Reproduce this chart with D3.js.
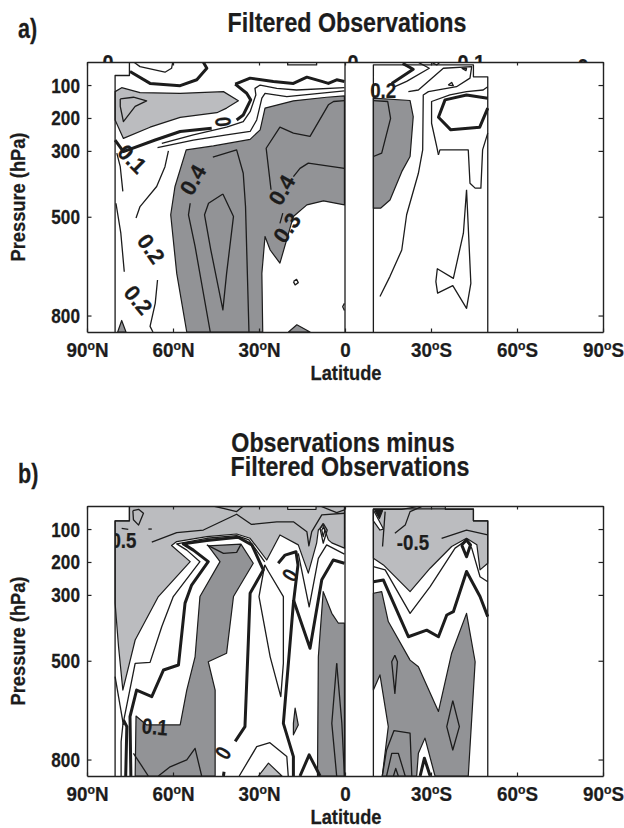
<!DOCTYPE html>
<html><head><meta charset="utf-8">
<script src="https://cdn.jsdelivr.net/npm/d3@7"></script>
<style>html,body{margin:0;padding:0;background:#fff}svg{display:block}</style>
</head><body><div id="c"></div>
<script>
// All contour data are [latitude (+N / -S), pressure hPa]
const latTicks=[90,60,30,0,-30,-60,-90];
const latTickLabels=[["90","N"],["60","N"],["30","N"],["0",""],["30","S"],["60","S"],["90","S"]];
const pressureTicks=[100,200,300,500,800];
const dataBox=[[80.2,850],[80.2,71],[75.2,71],[75.2,30],[0,30],[0,850]];
const dataBoxB=[[80.2,850],[80.2,75],[75.2,75],[75.2,30],[0,30],[0,850]];
const dataBoxS=[[-9.9,850],[-9.9,39],[-44.8,39],[-44.8,75],[-49.8,75],[-49.8,850]];

// Panel a
const aDark=[
 [[55.2,850],[58.7,672],[60.8,494],[59.3,408],[55.4,297],[45.9,285],[33.1,265],[29.6,236],[27.9,170],[18,148],[6.4,137],[0.2,133],[0.2,464],[7.5,452],[13.3,464],[18,499],[22.7,641],[26.1,601],[27.9,560],[29,672],[28.7,850]],
 [[79.3,850],[77.9,815],[76.4,850]],
 [[19.7,850],[16.8,828],[12.2,850]],
 [[-9.9,140],[-22.7,147],[-23.8,196],[-22.7,317],[-19.8,363],[-15.7,449],[-12.4,474],[-9.9,474]]
];
const aLight=[
 [[80.2,120],[77.9,108],[71.5,123],[57.5,125],[42.4,120],[37.2,148],[41.3,170],[44.7,184],[57.5,198],[68,228],[77.3,262],[80.2,206]]
];
const aThin=[
 [[78.4,142],[73.8,137],[69.2,148],[73.2,165],[77.3,211],[78.4,165],[78.4,142]],
 [[47,850],[52.3,590],[54.6,494],[54,459]],
 [[46.1,319],[37.8,297],[35.5,368],[34.7,469],[33.5,850]],
 [[42.6,431],[47.6,459],[49,494],[46.8,601],[42.6,783],[41.3,672],[38.9,499],[42.6,431]],
 [[0.2,147],[4,150],[5.8,160],[12.2,256],[18,246],[22.7,228],[27.5,292],[25.8,418]],
 [[21.7,489],[22.7,520]],
 [[18,378],[15.7,353],[12.8,337],[0.2,353]],
 [[63.9,277],[52.9,251],[41.3,228],[35.5,211],[33.1,181],[31.1,130],[31.4,110],[29.6,100],[23.8,110],[16.9,115],[0.2,108]],
 [[65.4,290],[52.9,267],[41.3,251],[33.1,241],[30.8,206],[29,140],[27.9,125],[20.3,135],[0.2,118]],
 [[73.6,31],[71.5,44],[62.8,61],[60.5,49],[60.1,31]],
 [[20,31],[20,39],[9.9,39],[9.9,31]],
 [[79.6,307],[78.4,348],[77.5,423]],
 [[79.9,459],[78.2,550],[77,667]],
 [[72.9,504],[71.5,469],[65.7,408],[62.8,348],[61.6,300]],
 [[65.4,692],[66.2,763],[68,833],[67,850]],
 [[18,697],[16.9,690],[16.3,700],[17.4,707],[18,697]],
 [[0.2,763],[0.8,773],[0.2,785]],
 [[-9.9,147],[-14.9,150],[-15.9,201],[-12.8,307],[-9.9,317]],
 [[-12.2,742],[-15.7,681],[-19.8,601],[-21.5,494],[-25.6,368],[-27.1,297],[-27.3,130],[-29.1,120],[-38.9,105],[-43.6,79],[-44.2,44],[-34.3,49],[-29.7,84],[-25.6,115],[-22.1,120]],
 [[-32.6,312],[-32,287],[-30.2,216],[-30.2,150],[-36.6,130],[-42.4,120],[-48.2,115],[-49.8,105]],
 [[-32.6,312],[-33.1,297],[-43,297],[-43.6,398],[-45.4,413],[-47.4,413],[-48,297],[-49.8,246]],
 [[-25.6,31],[-29.4,49],[-21.5,89],[-17.4,105]],
 [[-30.2,31],[-32,39],[-33.1,31]],
 [[-36,100],[-37.2,92],[-37.8,102],[-36,100]],
 [[-40.7,49],[-42.4,49],[-42.2,56],[-40.7,49]],
 [[-42.4,418],[-41.3,550],[-37.8,687],[-32.2,658],[-31.7,697],[-32.3,732],[-37.6,709],[-42.4,778],[-43.9,702],[-42.4,418]]
];
const aThick=[
 [[38.3,97],[33.1,79],[25,89],[18,95],[13.3,76],[8.1,89],[5.8,95],[2.9,84],[0.2,89]],
 [[38.3,97],[34.3,125],[32.9,145],[35.5,191],[37.8,206]],
 [[46.5,231],[57.5,241],[66.2,267],[77.3,302],[80.2,267]],
 [[75,59],[68,95],[57.5,102],[51.7,84],[48.2,49],[49.4,31]],
 [[-49.8,140],[-42.4,130],[-34.9,145],[-32.6,198],[-36.9,236],[-47,228],[-49.8,170]],
 [[-16.3,95],[-23.8,52],[-20.1,34]]
];
const aLabels=["0.1","0.4","0.2","0.2","0","0.4","0.3","0.2"];
const aLabelPos=[[74.3,325],[53,388],[67.7,598],[72.2,753],[42.6,212],[22,419],[20.2,534],[-13.3,115]];
const aLabelAngle=[45,-60,55,50,-95,-60,-55,0];
const aTopLabels=["0","0","0.1","0"];
const aTopPos=[[82.7,0],[-2.8,0],[-44,0],[-83,4]];

// Panel b
const bLight=[
 [[75.2,30],[0.2,30],[0.2,158],[4.6,142],[5.8,133],[7.6,88],[9.3,103],[9.9,143],[12.8,234],[16.3,148],[22.7,118],[27.3,194],[33.1,128],[37.8,115],[48.2,123],[58.7,138],[60.5,150],[54,199],[65.1,305],[73.2,437],[77.5,589],[79,457],[80.2,325],[80.2,75],[75.2,75]],
 [[30.2,850],[26.7,811],[22,850]],
 [[-9.9,40],[-19.8,40],[-26.5,30],[-35,30],[-35,40],[-44.8,40],[-44.8,75],[-49.8,75],[-49.8,204],[-47.1,224],[-46,148],[-42.4,128],[-37.2,153],[-29.7,219],[-22.7,290],[-13.4,209],[-9.9,189]]
];
const bDark=[
 [[47.7,151],[36.3,146],[32,204],[38.9,305],[41.3,477],[47.7,503],[45.3,589],[45.3,850],[73.2,850],[72.9,668],[69.2,695],[57.5,695],[55.2,589],[52.3,488],[50.6,305],[43.6,199],[47.7,151]],
 [[0.2,386],[2.3,386],[4.6,356],[7.6,290],[9.3,488],[9.6,850],[0.2,850]],
 [[17.4,644],[16.3,695],[18,725],[18,690]],
 [[-9.9,295],[-12.8,290],[-15.1,381],[-22.7,498],[-25.6,518],[-32.6,654],[-37.2,477],[-42.4,356],[-45.4,503],[-43,850],[-31.4,850],[-27.9,735],[-25.6,781],[-25,850],[-13,850],[-15.1,700],[-12.2,543],[-9.9,589]]
];
const bHoles=[
 [[20,30],[20,40],[10.1,40],[10.1,30]],
 [[-40.7,148],[-42.4,133],[-43.8,148],[-42.4,184]],
 [[-9.9,42],[-13.4,100],[-12.2,103],[-9.9,75]]
];
const bBlack=[[[-10.5,44],[-13.1,44],[-12,68]]];
const bThin=[
 [[78.1,850],[78.1,746],[77.5,695],[73.2,508],[68,505],[63.9,396],[59.9,305],[50.6,199],[55.2,164],[58.7,145],[48.2,128],[37.8,120],[33.5,133],[28,200]],
 [[28,209],[30,305],[26.1,488],[22.4,609],[21.5,508],[21.5,305],[26.7,229],[28,209]],
 [[48.2,148],[42.4,174],[37.8,171],[36.4,148]],
 [[36.9,850],[30.8,761],[26.2,749],[20.3,791],[19.8,850]],
 [[73.8,781],[68.6,850]],
 [[65.1,850],[61,822],[55.2,801],[52.3,766],[50,850]],
 [[77.3,695],[80.2,548]],
 [[2.9,508],[4.6,690],[2.9,850]],
 [[2.9,508],[1.1,690],[0.2,850]],
 [[67.4,140],[58.7,111],[49.4,103],[37.8,55],[32.6,86],[23.8,78],[18,78],[13.3,108],[12.6,151],[11.6,108],[8.1,57],[0.2,52]],
 [[45.9,30],[37.8,47],[35.5,30]],
 [[8.7,30],[2.9,50],[0.2,42]],
 [[74,44],[72,40],[70.3,52],[72,88],[73.8,72],[74,44]],
 [[77.9,98],[75.6,101]],
 [[68.6,100],[67.4,100]],
 [[7.6,83],[8.7,98],[7.6,143],[6.2,103],[7.6,83]],
 [[7.6,95],[8.1,103],[7.6,123],[7,103],[7.6,95]],
 [[16.3,174],[12.5,336],[9.3,189],[6.4,148],[0.2,176]],
 [[-14,47],[-13.1,153]],
 [[-17.4,113],[-21,88],[-22.7,47],[-26.7,32]],
 [[-33.7,128],[-42.4,103],[-49.8,118]],
 [[-9.9,214],[-14,224],[-22.7,356],[-29.7,275],[-38.4,158],[-42.2,135],[-44.2,158],[-47.1,245],[-49.8,260]],
 [[-37.6,621],[-39.9,700],[-37.6,771],[-35.5,700],[-37.6,621]],
 [[-17.4,483],[-18.3,503],[-17.4,599],[-16.3,503],[-17.4,483]],
 [[-13,850],[-14.5,771],[-17.1,712],[-22.7,720],[-23.3,850]],
 [[-14.5,850],[-16.3,781],[-18.6,781],[-21,850]],
 [[-16.9,850],[-17.7,827],[-18.6,850]]
];
const bThick=[
 [[74.7,850],[75,670],[72.7,589],[67.4,609],[63.3,528],[58.1,513],[55.8,325],[53.5,270],[47.7,199],[52.9,164],[56.4,145],[48.2,135],[37.3,125],[32.5,148],[28.5,224],[33.1,295],[33.7,437],[34.9,700],[38.3,745]],
 [[76.5,850],[76.1,700],[77.3,680]],
 [[42.2,837],[42.4,850]],
 [[23.3,204],[20.9,179],[17.1,169],[16.4,209],[18,325],[21.5,690],[18,791],[18,850]],
 [[18,315],[12.2,462],[8.1,254],[4.1,194],[0.2,204]],
 [[15.7,850],[12.5,786],[8.7,850]],
 [[-9.9,260],[-13.4,255],[-22.1,427],[-28.5,407],[-32.6,427],[-35.5,361],[-37.8,351],[-42.4,229],[-47.1,305],[-49.8,366]],
 [[-26.2,850],[-27.7,796],[-29.7,850]],
 [[-40.7,148],[-42.4,133],[-43.8,148],[-42.4,184],[-40.7,148]]
];
const bLabels=["0.5","0.1","0","0","-0.5"];
const bLabelPos=[[77.3,136],[66.3,701],[42.6,780],[19.2,240],[-23.7,142]];
const bLabelAngle=[0,5,-60,-60,0];

const W=624,H=828;
const FONT='"Liberation Sans",Arial,sans-serif';
const LIGHT="#bbbcbf",DARK="#929396",INK="#1c1c1c";
const svg=d3.select("#c").append("svg").attr("width",W).attr("height",H).attr("viewBox",[0,0,W,H]);
const x=d3.scaleLinear().domain([90,-90]).range([87,603]);
const line=(y)=>d3.line().x(d=>x(d[0])).y(d=>y(d[1]));
const bold=(sel,size)=>sel.attr("font-family",FONT).attr("font-weight","bold").attr("font-size",size).attr("fill",INK).attr("stroke",INK).attr("stroke-width",0.25);

function panel(cfg){
  const top=cfg.top,bottom=top+270;
  const y=d3.scaleLinear().domain([30,850]).range([top,bottom]);
  const ln=line(y);
  const root=svg.append("g");
  // contour labels that stick out above the frame (their lower half is hidden by the plot)
  bold(root.selectAll("text.top").data(cfg.topLabels||[]).join("text").attr("class","top")
    .attr("transform",(d,i)=>`translate(${x(cfg.topPos[i][0])},${top+8+cfg.topPos[i][1]}) scale(.9,1)`)
    .attr("text-anchor","middle"),22).text(d=>d);
  root.append("rect").attr("x",87).attr("y",top).attr("width",516).attr("height",270).attr("fill","#fff");
  const clipId="clip"+cfg.id;
  root.append("clipPath").attr("id",clipId).append("rect").attr("x",87).attr("y",top).attr("width",516).attr("height",270);
  const g=root.append("g").attr("clip-path",`url(#${clipId})`);
  const area=(arr,fill)=>g.append("g").selectAll("path").data(arr).join("path")
    .attr("d",d=>ln(d)+"Z").attr("fill",fill).attr("stroke",INK).attr("stroke-width",1.2).attr("stroke-linejoin","round");
  area(cfg.light,LIGHT);
  area(cfg.dark,DARK);
  if(cfg.holes)area(cfg.holes,"#fff");
  if(cfg.black)area(cfg.black,INK);
  const stroke=(arr,w)=>g.append("g").selectAll("path").data(arr).join("path")
    .attr("d",ln).attr("fill","none").attr("stroke",INK).attr("stroke-width",w).attr("stroke-linejoin","round");
  stroke(cfg.thin,1.3);
  stroke(cfg.thick,3);
  stroke([cfg.boxN,cfg.boxS],1.3);
  // contour labels: horizontal ones and lone zeros are set narrower
  const lclip="lclip"+cfg.id;
  root.append("clipPath").attr("id",lclip).append("rect").attr("x",x(80.2)).attr("y",top).attr("width",x(-90)-x(80.2)).attr("height",270);
  const lg=root.append("g").attr("clip-path",`url(#${lclip})`);
  const sx=(t,a)=>(t.length===1?.8:(Math.abs(a)<10?.85:1));
  bold(lg.selectAll("text").data(cfg.labels).join("text")
    .attr("transform",(d,i)=>{const p=cfg.labelPos[i],a=cfg.labelAngle[i];return `translate(${x(p[0])},${y(p[1])}) rotate(${a}) scale(${sx(d,a)},1)`;})
    .attr("text-anchor","middle").attr("dominant-baseline","central"),22).text(d=>d);
  // axes
  const ax=root.append("g").attr("transform",`translate(0,${bottom})`)
    .call(d3.axisBottom(x).tickValues(latTicks).tickSizeInner(-3.5).tickSizeOuter(0));
  root.append("g").attr("transform",`translate(0,${top})`)
    .call(d3.axisTop(x).tickValues(latTicks).tickSizeInner(-3.5).tickSizeOuter(0).tickFormat(""));
  const ay=root.append("g").attr("transform","translate(87,0)")
    .call(d3.axisLeft(y).tickValues(pressureTicks).tickSizeInner(-4.5).tickSizeOuter(0));
  root.append("g").attr("transform","translate(603,0)")
    .call(d3.axisRight(y).tickValues(pressureTicks).tickSizeInner(-4.5).tickSizeOuter(0).tickFormat(""));
  root.selectAll(".domain").attr("stroke","#222").attr("stroke-width",1.4);
  root.selectAll(".tick line").attr("stroke","#222").attr("stroke-width",1.2);
  bold(ay.selectAll(".tick text"),20).attr("x",null).attr("dy",null)
    .attr("text-anchor","end").attr("transform","translate(-7,7) scale(.86,1)");
  ax.selectAll(".tick text").each(function(d,i){
    const t=bold(d3.select(this).text(null),20).attr("y",null).attr("dy",null)
      .attr("transform","translate(0,25) scale(.94,1)");
    const lab=latTickLabels[i];
    t.append("tspan").text(lab[0]);
    if(lab[1]){
      t.append("tspan").attr("font-size",13).attr("dy",-7).text("o");
      t.append("tspan").attr("dy",7).text(lab[1]);
    }
  });
  bold(root.append("text").attr("transform",`translate(346,${bottom+48}) scale(.87,1)`).attr("text-anchor","middle"),21).text("Latitude");
  bold(root.append("text").attr("transform",`translate(25,${top+135}) rotate(-90) scale(.87,1)`).attr("text-anchor","middle"),21).text("Pressure (hPa)");
}

panel({id:"a",top:62,light:aLight,dark:aDark,thin:aThin,thick:aThick,boxN:dataBox,boxS:dataBoxS,labels:aLabels,labelPos:aLabelPos,labelAngle:aLabelAngle,topLabels:aTopLabels,topPos:aTopPos});
panel({id:"b",top:506,light:bLight,dark:bDark,holes:bHoles,black:bBlack,thin:bThin,thick:bThick,boxN:dataBoxB,boxS:dataBoxS,labels:bLabels,labelPos:bLabelPos,labelAngle:bLabelAngle});

const titles=[["Filtered Observations",347,32],["Observations minus",343,452],["Filtered Observations",350,476]];
bold(svg.append("g").selectAll("text").data(titles).join("text")
  .attr("transform",d=>`translate(${d[1]},${d[2]}) scale(.83,1)`).attr("text-anchor","middle"),28).text(d=>d[0]);
const panelTags=[["a)",18,38],["b)",18,483]];
bold(svg.append("g").selectAll("text").data(panelTags).join("text")
  .attr("transform",d=>`translate(${d[1]},${d[2]}) scale(.8,1)`),27).text(d=>d[0]);
</script></body></html>
